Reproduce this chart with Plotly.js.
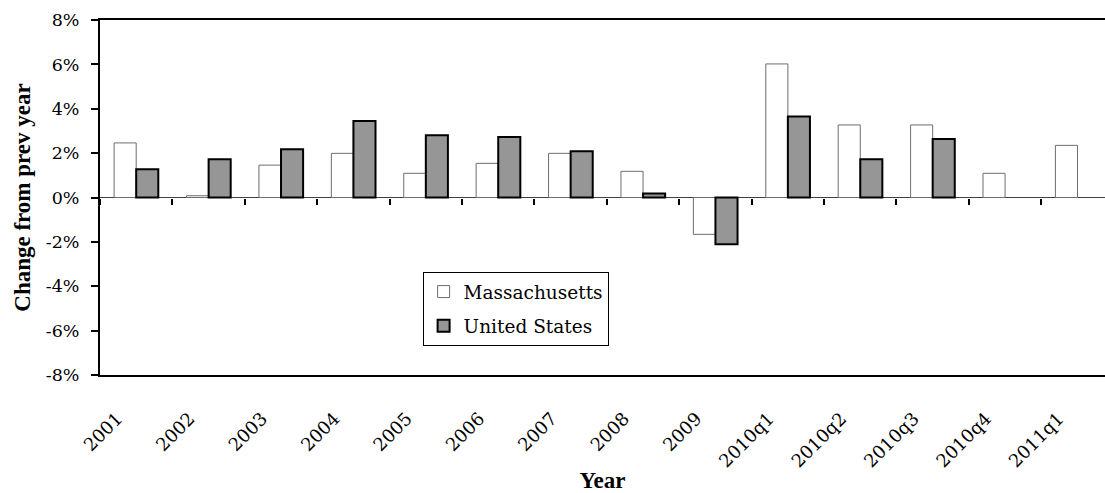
<!DOCTYPE html>
<html>
<head>
<meta charset="utf-8">
<script src="https://cdn.plot.ly/plotly-3.0.1.min.js"></script>
<style>html,body{margin:0;padding:0;background:#fff;}#chart{width:1105px;height:493px;}</style>
</head>
<body>
<div id="chart"></div>
<script>
const categories = ["2001","2002","2003","2004","2005","2006","2007","2008","2009","2010q1","2010q2","2010q3","2010q4","2011q1"];
const massachusetts = [0.0246,0.0008,0.0146,0.0199,0.0109,0.0154,0.0199,0.0118,-0.0166,0.0602,0.0327,0.0327,0.0109,0.0235];
const unitedStates = [0.0127,0.0172,0.0217,0.0345,0.0281,0.0273,0.0208,0.0018,-0.0211,0.0365,0.0172,0.0264,null,null];
const yTicks = [-0.08,-0.06,-0.04,-0.02,0,0.02,0.04,0.06,0.08];
const yTickLabels = ["-8%","-6%","-4%","-2%","0%","2%","4%","6%","8%"];

const serifBold = "Times New Roman, Liberation Serif, serif";
const serif = "DejaVu Serif, serif";
const traces = [
  {type:"bar", name:"Massachusetts", x:categories, y:massachusetts, legendgroup:"ma",
   marker:{color:"#ffffff", line:{color:"#6e6e6e", width:1}}, hoverinfo:"skip"},
  {type:"bar", name:"United States", x:categories, y:unitedStates, legendgroup:"us",
   marker:{color:"#969696", line:{color:"#000000", width:2}}, hoverinfo:"skip"},
  {type:"scatter", mode:"markers", x:categories, y:categories.map(()=>null),
   xaxis:"x2", yaxis:"y", showlegend:false, hoverinfo:"skip"}
];
const layout = {
  width:1105, height:493,
  margin:{l:100, r:0, t:20, b:118},
  paper_bgcolor:"#fff", plot_bgcolor:"#fff",
  font:{family:serif, size:18, color:"#000"},
  barmode:"group", bargap:0.39, bargroupgap:0,
  showlegend:true,
  legend:{x:0.321, y:0.29, xanchor:"left", yanchor:"top", bgcolor:"#fff",
          bordercolor:"#000", borderwidth:1, font:{family:serif, size:18.5, color:"#000"},
          traceorder:"grouped", itemwidth:30, tracegroupgap:7},
  xaxis:{type:"category", categoryarray:categories, range:[-0.5, 13.38],
         showline:true, linecolor:"#000", linewidth:2, mirror:true,
         ticks:"", showgrid:false, zeroline:false, automargin:false,
         tickangle:-45, tickfont:{family:serif, size:18, color:"#000"},
         ticklabelstandoff:24, ticklabelshift:-19,
         title:{text:"<b>Year</b>", font:{family:serifBold, size:23, color:"#000"}, standoff:14}},
  xaxis2:{type:"category", matches:"x", overlaying:"x", anchor:"free", position:0.5,
          tickson:"boundaries", ticks:"outside", ticklen:6, tickwidth:2, tickcolor:"#000",
          showticklabels:false, showline:false, showgrid:false, zeroline:false},
  yaxis:{range:[-0.08,0.08], tickvals:yTicks, ticktext:yTickLabels,
         showline:true, linecolor:"#000", linewidth:2, mirror:false, automargin:false,
         ticks:"outside", ticklen:7, tickwidth:2, tickcolor:"#000",
         showgrid:false, zeroline:true, zerolinecolor:"#404040", zerolinewidth:1.5,
         tickfont:{family:serif, size:17.5, color:"#000"}, ticklabelstandoff:8,
         title:{text:"<b>Change from prev year</b>", font:{family:serifBold, size:23, color:"#000"}, standoff:9}}
};
Plotly.newPlot("chart", traces, layout, {displayModeBar:false, staticPlot:true});
</script>
</body>
</html>
